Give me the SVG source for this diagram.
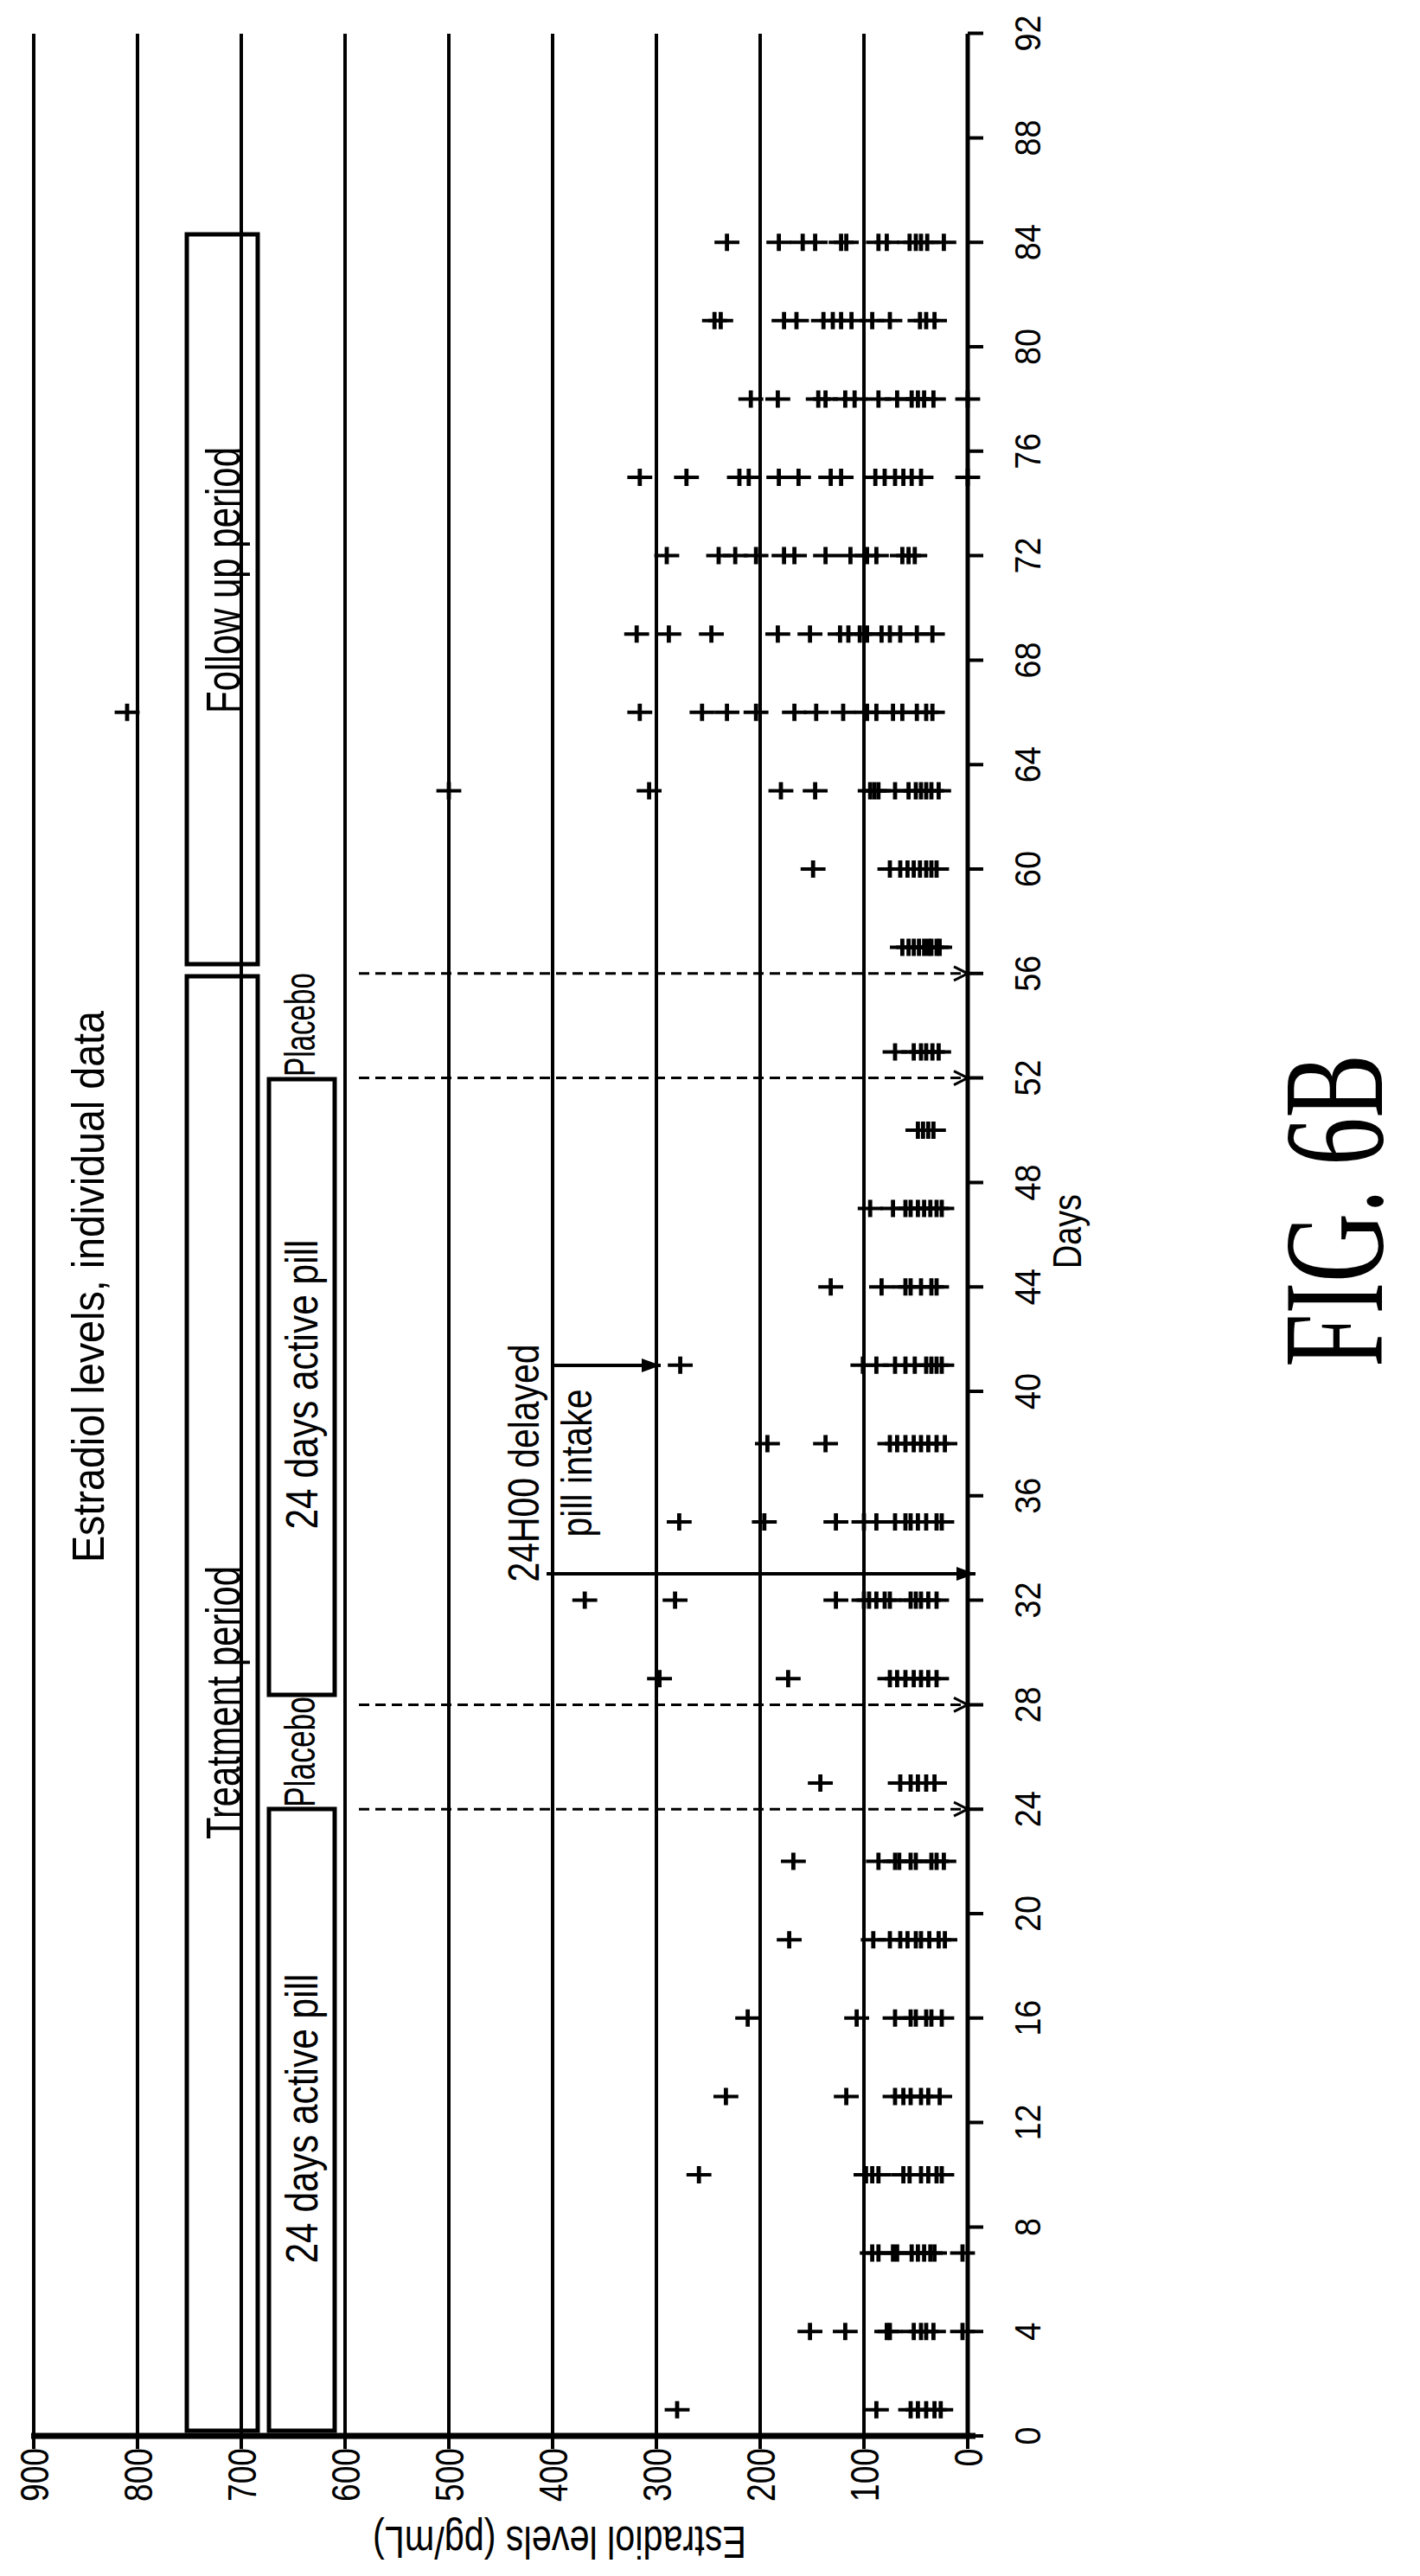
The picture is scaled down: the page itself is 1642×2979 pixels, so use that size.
<svg xmlns="http://www.w3.org/2000/svg" xmlns:xlink="http://www.w3.org/1999/xlink" width="1642" height="2979" viewBox="0 0 1642 2979">
<style>
.g{stroke:#000;stroke-width:4;fill:none}
.t{font-family:"Liberation Sans",Arial,sans-serif;fill:#000;text-anchor:middle}
.box{fill:none;stroke:#000;stroke-width:5}
.pt{stroke:#000;stroke-width:4;fill:none}
</style>
<defs>
<path id="p" d="M-12 0H12M0 -10V10"/>
<marker id="oa" markerUnits="userSpaceOnUse" markerWidth="30" markerHeight="30" refX="0" refY="0" viewBox="-20 -15 30 30" orient="auto"><path d="M-16,-8 L0,0 L-16,8" fill="none" stroke="#000" stroke-width="3"/></marker>
<marker id="fa" markerUnits="userSpaceOnUse" markerWidth="30" markerHeight="30" refX="0" refY="0" viewBox="-25 -15 30 30" orient="auto"><path d="M-22,-8 L0,0 L-22,8 Z" fill="#000"/></marker>
</defs>
<rect width="1642" height="2979" fill="#fff"/>
<g id="grid" class="g">
<path d="M39 39V2817M159 39V2817M279 39V2817M399 39V2817M519 39V2817M639 39V2817M759 39V2817M879 39V2817M999 39V2817"/>
<path d="M1119 39V2817" stroke-width="5"/>
<path d="M36 2817H1128" stroke-width="7"/>
<path d="M39 2817V2832M159 2817V2832M279 2817V2832M399 2817V2832M519 2817V2832M639 2817V2832M759 2817V2832M879 2817V2832M999 2817V2832M1119 2817V2832"/>
<path d="M1119 2817H1137M1119 2696.2H1137M1119 2575.4H1137M1119 2454.6H1137M1119 2333.8H1137M1119 2213H1137M1119 2092.2H1137M1119 1971.4H1137M1119 1850.6H1137M1119 1729.8H1137M1119 1609H1137M1119 1488.2H1137M1119 1367.4H1137M1119 1246.6H1137M1119 1125.8H1137M1119 1005H1137M1119 884.2H1137M1119 763.4H1137M1119 642.6H1137M1119 521.8H1137M1119 401H1137M1119 280.2H1137M1119 159.4H1137M1119 38.6H1137"/>
</g>
<g id="daylabels" class="t" font-size="42">
<text transform="translate(1203,2817) rotate(-90)" textLength="21" lengthAdjust="spacingAndGlyphs">0</text>
<text transform="translate(1203,2696.2) rotate(-90)" textLength="21" lengthAdjust="spacingAndGlyphs">4</text>
<text transform="translate(1203,2575.4) rotate(-90)" textLength="21" lengthAdjust="spacingAndGlyphs">8</text>
<text transform="translate(1203,2454.6) rotate(-90)" textLength="42" lengthAdjust="spacingAndGlyphs">12</text>
<text transform="translate(1203,2333.8) rotate(-90)" textLength="42" lengthAdjust="spacingAndGlyphs">16</text>
<text transform="translate(1203,2213) rotate(-90)" textLength="42" lengthAdjust="spacingAndGlyphs">20</text>
<text transform="translate(1203,2092.2) rotate(-90)" textLength="42" lengthAdjust="spacingAndGlyphs">24</text>
<text transform="translate(1203,1971.4) rotate(-90)" textLength="42" lengthAdjust="spacingAndGlyphs">28</text>
<text transform="translate(1203,1850.6) rotate(-90)" textLength="42" lengthAdjust="spacingAndGlyphs">32</text>
<text transform="translate(1203,1729.8) rotate(-90)" textLength="42" lengthAdjust="spacingAndGlyphs">36</text>
<text transform="translate(1203,1609) rotate(-90)" textLength="42" lengthAdjust="spacingAndGlyphs">40</text>
<text transform="translate(1203,1488.2) rotate(-90)" textLength="42" lengthAdjust="spacingAndGlyphs">44</text>
<text transform="translate(1203,1367.4) rotate(-90)" textLength="42" lengthAdjust="spacingAndGlyphs">48</text>
<text transform="translate(1203,1246.6) rotate(-90)" textLength="42" lengthAdjust="spacingAndGlyphs">52</text>
<text transform="translate(1203,1125.8) rotate(-90)" textLength="42" lengthAdjust="spacingAndGlyphs">56</text>
<text transform="translate(1203,1005) rotate(-90)" textLength="42" lengthAdjust="spacingAndGlyphs">60</text>
<text transform="translate(1203,884.2) rotate(-90)" textLength="42" lengthAdjust="spacingAndGlyphs">64</text>
<text transform="translate(1203,763.4) rotate(-90)" textLength="42" lengthAdjust="spacingAndGlyphs">68</text>
<text transform="translate(1203,642.6) rotate(-90)" textLength="42" lengthAdjust="spacingAndGlyphs">72</text>
<text transform="translate(1203,521.8) rotate(-90)" textLength="42" lengthAdjust="spacingAndGlyphs">76</text>
<text transform="translate(1203,401) rotate(-90)" textLength="42" lengthAdjust="spacingAndGlyphs">80</text>
<text transform="translate(1203,280.2) rotate(-90)" textLength="42" lengthAdjust="spacingAndGlyphs">84</text>
<text transform="translate(1203,159.4) rotate(-90)" textLength="42" lengthAdjust="spacingAndGlyphs">88</text>
<text transform="translate(1203,38.6) rotate(-90)" textLength="42" lengthAdjust="spacingAndGlyphs">92</text>
</g>
<g id="vallabels" class="t" font-size="46">
<text transform="translate(56,2862) rotate(-90)" textLength="62" lengthAdjust="spacingAndGlyphs">900</text>
<text transform="translate(176,2862) rotate(-90)" textLength="62" lengthAdjust="spacingAndGlyphs">800</text>
<text transform="translate(296,2862) rotate(-90)" textLength="62" lengthAdjust="spacingAndGlyphs">700</text>
<text transform="translate(416,2862) rotate(-90)" textLength="62" lengthAdjust="spacingAndGlyphs">600</text>
<text transform="translate(536,2862) rotate(-90)" textLength="62" lengthAdjust="spacingAndGlyphs">500</text>
<text transform="translate(656,2862) rotate(-90)" textLength="62" lengthAdjust="spacingAndGlyphs">400</text>
<text transform="translate(776,2862) rotate(-90)" textLength="62" lengthAdjust="spacingAndGlyphs">300</text>
<text transform="translate(896,2862) rotate(-90)" textLength="62" lengthAdjust="spacingAndGlyphs">200</text>
<text transform="translate(1016,2862) rotate(-90)" textLength="62" lengthAdjust="spacingAndGlyphs">100</text>
<text transform="translate(1136,2842) rotate(-90)" textLength="21" lengthAdjust="spacingAndGlyphs">0</text>
</g>
<g id="axis-titles" class="t">
<text font-size="52" transform="translate(647,2922) rotate(180)" textLength="432" lengthAdjust="spacingAndGlyphs">Estradiol levels (pg/mL)</text>
<text font-size="46" transform="translate(1250,1424) rotate(-90)" textLength="86" lengthAdjust="spacingAndGlyphs">Days</text>
<text font-size="52" transform="translate(120,1488) rotate(-90)" textLength="638" lengthAdjust="spacingAndGlyphs">Estradiol levels, individual data</text>
</g>
<g id="follow-up">
<rect class="box" x="216" y="271" width="82" height="844"/>
<text class="t" font-size="56" transform="translate(277,671) rotate(-90)" textLength="308" lengthAdjust="spacingAndGlyphs">Follow up period</text>
</g>
<g id="treatment">
<rect class="box" x="216" y="1129" width="82" height="1682"/>
<text class="t" font-size="56" transform="translate(277,1969) rotate(-90)" textLength="316" lengthAdjust="spacingAndGlyphs">Treatment period</text>
</g>
<g id="active1">
<rect class="box" x="311" y="2092" width="76" height="719"/>
<text class="t" font-size="52" transform="translate(367,2450) rotate(-90)" textLength="335" lengthAdjust="spacingAndGlyphs">24 days active pill</text>
</g>
<g id="placebo1"><text class="t" font-size="50" transform="translate(364,2026) rotate(-90)" textLength="128" lengthAdjust="spacingAndGlyphs">Placebo</text></g>
<g id="active2">
<rect class="box" x="311" y="1248" width="76" height="712"/>
<text class="t" font-size="52" transform="translate(367,1601) rotate(-90)" textLength="335" lengthAdjust="spacingAndGlyphs">24 days active pill</text>
</g>
<g id="placebo2"><text class="t" font-size="50" transform="translate(364,1185) rotate(-90)" textLength="120" lengthAdjust="spacingAndGlyphs">Placebo</text></g>
<g id="delayed">
<text class="t" font-size="50" transform="translate(623,1692) rotate(-90)" textLength="275" lengthAdjust="spacingAndGlyphs">24H00 delayed</text>
<text class="t" font-size="50" transform="translate(684,1692) rotate(-90)" textLength="171" lengthAdjust="spacingAndGlyphs">pill intake</text>
</g>
<g id="connectors" fill="none" stroke="#000">
<path d="M415 2092.2H1119" stroke-width="3" stroke-dasharray="12 7" marker-end="url(#oa)"/>
<path d="M415 1971.4H1119" stroke-width="3" stroke-dasharray="12 7" marker-end="url(#oa)"/>
<path d="M415 1246.6H1119" stroke-width="3" stroke-dasharray="12 7" marker-end="url(#oa)"/>
<path d="M415 1125.8H1119" stroke-width="3" stroke-dasharray="12 7" marker-end="url(#oa)"/>
<path d="M632 1820H1128" stroke-width="4" marker-end="url(#fa)"/>
<path d="M639 1579H764" stroke-width="4" marker-end="url(#fa)"/>
</g>
<g id="fig"><text font-family="'Liberation Serif','Times New Roman',serif" font-size="165" text-anchor="middle" transform="translate(1598,1400) rotate(-90)" textLength="362" lengthAdjust="spacingAndGlyphs">FIG. 6B</text></g>
<g id="data" class="pt">
<g transform="translate(1119,2786.8) scale(-1.2,1)"><use href="#p" x="280"/><use href="#p" x="88"/><use href="#p" x="55"/><use href="#p" x="48"/><use href="#p" x="40"/><use href="#p" x="32"/><use href="#p" x="26"/></g>
<g transform="translate(1119,2696.2) scale(-1.2,1)"><use href="#p" x="152"/><use href="#p" x="118"/><use href="#p" x="78"/><use href="#p" x="75"/><use href="#p" x="52"/><use href="#p" x="45"/><use href="#p" x="40"/><use href="#p" x="33"/><use href="#p" x="5"/></g>
<g transform="translate(1119,2605.6) scale(-1.2,1)"><use href="#p" x="92"/><use href="#p" x="86"/><use href="#p" x="72"/><use href="#p" x="68"/><use href="#p" x="54"/><use href="#p" x="48"/><use href="#p" x="42"/><use href="#p" x="36"/><use href="#p" x="32"/><use href="#p" x="5"/></g>
<g transform="translate(1119,2515) scale(-1.2,1)"><use href="#p" x="259"/><use href="#p" x="98"/><use href="#p" x="92"/><use href="#p" x="86"/><use href="#p" x="62"/><use href="#p" x="56"/><use href="#p" x="45"/><use href="#p" x="38"/><use href="#p" x="30"/><use href="#p" x="25"/></g>
<g transform="translate(1119,2424.4) scale(-1.2,1)"><use href="#p" x="233"/><use href="#p" x="117"/><use href="#p" x="70"/><use href="#p" x="62"/><use href="#p" x="55"/><use href="#p" x="45"/><use href="#p" x="38"/><use href="#p" x="27"/></g>
<g transform="translate(1119,2333.8) scale(-1.2,1)"><use href="#p" x="212"/><use href="#p" x="107"/><use href="#p" x="70"/><use href="#p" x="55"/><use href="#p" x="50"/><use href="#p" x="40"/><use href="#p" x="35"/><use href="#p" x="25"/></g>
<g transform="translate(1119,2243.2) scale(-1.2,1)"><use href="#p" x="172"/><use href="#p" x="91"/><use href="#p" x="75"/><use href="#p" x="65"/><use href="#p" x="58"/><use href="#p" x="50"/><use href="#p" x="45"/><use href="#p" x="37"/><use href="#p" x="28"/><use href="#p" x="22"/></g>
<g transform="translate(1119,2152.6) scale(-1.2,1)"><use href="#p" x="168"/><use href="#p" x="86"/><use href="#p" x="70"/><use href="#p" x="66"/><use href="#p" x="55"/><use href="#p" x="50"/><use href="#p" x="35"/><use href="#p" x="30"/><use href="#p" x="23"/></g>
<g transform="translate(1119,2062) scale(-1.2,1)"><use href="#p" x="142"/><use href="#p" x="65"/><use href="#p" x="55"/><use href="#p" x="48"/><use href="#p" x="40"/><use href="#p" x="32"/></g>
<g transform="translate(1119,1941.2) scale(-1.2,1)"><use href="#p" x="297"/><use href="#p" x="173"/><use href="#p" x="75"/><use href="#p" x="68"/><use href="#p" x="60"/><use href="#p" x="52"/><use href="#p" x="45"/><use href="#p" x="38"/><use href="#p" x="30"/></g>
<g transform="translate(1119,1850.6) scale(-1.2,1)"><use href="#p" x="369"/><use href="#p" x="282"/><use href="#p" x="127"/><use href="#p" x="100"/><use href="#p" x="95"/><use href="#p" x="88"/><use href="#p" x="80"/><use href="#p" x="75"/><use href="#p" x="55"/><use href="#p" x="50"/><use href="#p" x="45"/><use href="#p" x="38"/><use href="#p" x="30"/></g>
<g transform="translate(1119,1760) scale(-1.2,1)"><use href="#p" x="278"/><use href="#p" x="196"/><use href="#p" x="127"/><use href="#p" x="100"/><use href="#p" x="88"/><use href="#p" x="70"/><use href="#p" x="60"/><use href="#p" x="55"/><use href="#p" x="48"/><use href="#p" x="40"/><use href="#p" x="30"/><use href="#p" x="25"/></g>
<g transform="translate(1119,1669.4) scale(-1.2,1)"><use href="#p" x="193"/><use href="#p" x="137"/><use href="#p" x="75"/><use href="#p" x="68"/><use href="#p" x="60"/><use href="#p" x="52"/><use href="#p" x="45"/><use href="#p" x="38"/><use href="#p" x="30"/><use href="#p" x="22"/></g>
<g transform="translate(1119,1578.8) scale(-1.2,1)"><use href="#p" x="277"/><use href="#p" x="101"/><use href="#p" x="88"/><use href="#p" x="70"/><use href="#p" x="60"/><use href="#p" x="51"/><use href="#p" x="40"/><use href="#p" x="35"/><use href="#p" x="30"/><use href="#p" x="25"/></g>
<g transform="translate(1119,1488.2) scale(-1.2,1)"><use href="#p" x="132"/><use href="#p" x="83"/><use href="#p" x="60"/><use href="#p" x="55"/><use href="#p" x="45"/><use href="#p" x="35"/><use href="#p" x="30"/></g>
<g transform="translate(1119,1397.6) scale(-1.2,1)"><use href="#p" x="94"/><use href="#p" x="72"/><use href="#p" x="60"/><use href="#p" x="55"/><use href="#p" x="48"/><use href="#p" x="42"/><use href="#p" x="36"/><use href="#p" x="30"/><use href="#p" x="25"/></g>
<g transform="translate(1119,1307) scale(-1.2,1)"><use href="#p" x="48"/><use href="#p" x="43"/><use href="#p" x="38"/><use href="#p" x="33"/></g>
<g transform="translate(1119,1216.4) scale(-1.2,1)"><use href="#p" x="70"/><use href="#p" x="52"/><use href="#p" x="45"/><use href="#p" x="40"/><use href="#p" x="34"/><use href="#p" x="28"/></g>
<g transform="translate(1119,1095.6) scale(-1.2,1)"><use href="#p" x="63"/><use href="#p" x="57"/><use href="#p" x="52"/><use href="#p" x="47"/><use href="#p" x="42"/><use href="#p" x="38"/><use href="#p" x="35"/><use href="#p" x="30"/><use href="#p" x="27"/></g>
<g transform="translate(1119,1005) scale(-1.2,1)"><use href="#p" x="149"/><use href="#p" x="75"/><use href="#p" x="65"/><use href="#p" x="58"/><use href="#p" x="52"/><use href="#p" x="46"/><use href="#p" x="40"/><use href="#p" x="35"/><use href="#p" x="30"/></g>
<g transform="translate(1119,914.4) scale(-1.2,1)"><use href="#p" x="500"/><use href="#p" x="307"/><use href="#p" x="180"/><use href="#p" x="147"/><use href="#p" x="94"/><use href="#p" x="90"/><use href="#p" x="86"/><use href="#p" x="70"/><use href="#p" x="57"/><use href="#p" x="50"/><use href="#p" x="45"/><use href="#p" x="40"/><use href="#p" x="35"/><use href="#p" x="28"/></g>
<g transform="translate(1119,823.8) scale(-1.2,1)"><use href="#p" x="810"/><use href="#p" x="316"/><use href="#p" x="256"/><use href="#p" x="232"/><use href="#p" x="204"/><use href="#p" x="167"/><use href="#p" x="146"/><use href="#p" x="120"/><use href="#p" x="97"/><use href="#p" x="88"/><use href="#p" x="72"/><use href="#p" x="63"/><use href="#p" x="49"/><use href="#p" x="40"/><use href="#p" x="34"/></g>
<g transform="translate(1119,733.2) scale(-1.2,1)"><use href="#p" x="319"/><use href="#p" x="288"/><use href="#p" x="247"/><use href="#p" x="183"/><use href="#p" x="152"/><use href="#p" x="123"/><use href="#p" x="115"/><use href="#p" x="104"/><use href="#p" x="97"/><use href="#p" x="83"/><use href="#p" x="75"/><use href="#p" x="65"/><use href="#p" x="49"/><use href="#p" x="34"/></g>
<g transform="translate(1119,642.6) scale(-1.2,1)"><use href="#p" x="290"/><use href="#p" x="240"/><use href="#p" x="224"/><use href="#p" x="204"/><use href="#p" x="177"/><use href="#p" x="167"/><use href="#p" x="137"/><use href="#p" x="113"/><use href="#p" x="97"/><use href="#p" x="88"/><use href="#p" x="63"/><use href="#p" x="57"/><use href="#p" x="51"/></g>
<g transform="translate(1119,552) scale(-1.2,1)"><use href="#p" x="316"/><use href="#p" x="271"/><use href="#p" x="220"/><use href="#p" x="211"/><use href="#p" x="182"/><use href="#p" x="163"/><use href="#p" x="132"/><use href="#p" x="122"/><use href="#p" x="89"/><use href="#p" x="80"/><use href="#p" x="70"/><use href="#p" x="62"/><use href="#p" x="54"/><use href="#p" x="45"/><use href="#p" x="0"/></g>
<g transform="translate(1119,461.4) scale(-1.2,1)"><use href="#p" x="209"/><use href="#p" x="183"/><use href="#p" x="144"/><use href="#p" x="137"/><use href="#p" x="118"/><use href="#p" x="109"/><use href="#p" x="86"/><use href="#p" x="68"/><use href="#p" x="54"/><use href="#p" x="48"/><use href="#p" x="42"/><use href="#p" x="33"/><use href="#p" x="0"/></g>
<g transform="translate(1119,370.8) scale(-1.2,1)"><use href="#p" x="244"/><use href="#p" x="238"/><use href="#p" x="177"/><use href="#p" x="165"/><use href="#p" x="139"/><use href="#p" x="130"/><use href="#p" x="122"/><use href="#p" x="112"/><use href="#p" x="92"/><use href="#p" x="75"/><use href="#p" x="46"/><use href="#p" x="40"/><use href="#p" x="32"/></g>
<g transform="translate(1119,280.2) scale(-1.2,1)"><use href="#p" x="232"/><use href="#p" x="182"/><use href="#p" x="159"/><use href="#p" x="147"/><use href="#p" x="122"/><use href="#p" x="117"/><use href="#p" x="86"/><use href="#p" x="78"/><use href="#p" x="56"/><use href="#p" x="50"/><use href="#p" x="45"/><use href="#p" x="39"/><use href="#p" x="23"/></g>
</g>
</svg>
